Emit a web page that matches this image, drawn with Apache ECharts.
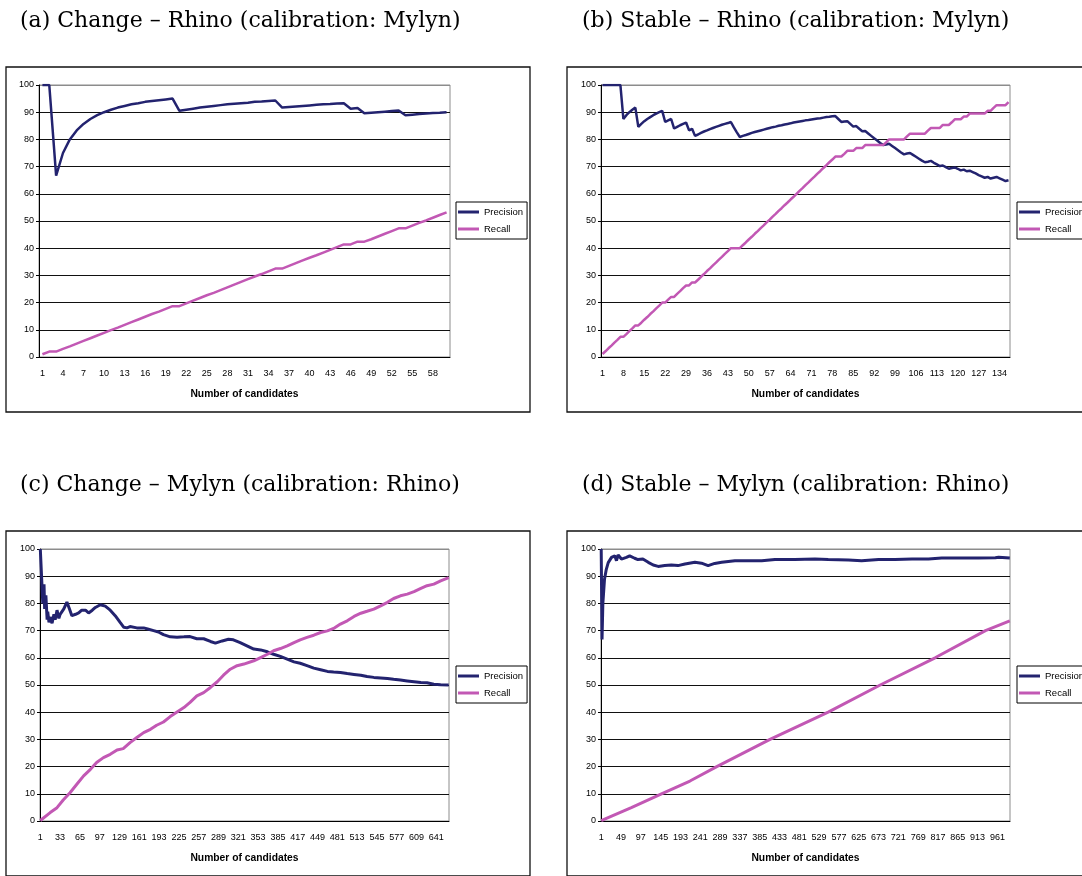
<!DOCTYPE html>
<html>
<head>
<meta charset="utf-8">
<script src="https://cdn.jsdelivr.net/npm/echarts@6/dist/echarts.min.js"></script>
<style>
  html, body { margin: 0; padding: 0; background: #fff; }
  #chart { width: 1082px; height: 876px; }
</style>
</head>
<body>
<div id="chart"></div>
<script>
// number of candidates on each x axis
var countA = 60, countB = 137, countC = 661, countD = 991;
// every n-th candidate gets a tick label
var labelStepA = 3, labelStepB = 7, labelStepC = 32, labelStepD = 48;

// (a) Change - Rhino, one value per candidate
var precisionA = [100,100,66.7,75,80,83.3,85.7,87.5,88.9,90,
  90.9,91.7,92.3,92.9,93.3,93.8,94.1,94.4,94.7,95,
  90.5,90.9,91.3,91.7,92,92.3,92.6,92.9,93.1,93.3,
  93.5,93.8,93.9,94.1,94.3,91.7,91.9,92.1,92.3,92.5,
  92.7,92.9,93,93.2,93.3,91.3,91.5,89.6,89.8,90,
  90.2,90.4,90.6,88.9,89.1,89.3,89.5,89.7,89.8,90];
var recallA = [1.0,2.0,2.0,3.0,3.9,4.9,5.9,6.9,7.9,8.9,
  9.9,10.8,11.8,12.8,13.8,14.8,15.8,16.7,17.7,18.7,
  18.7,19.7,20.7,21.7,22.7,23.6,24.6,25.6,26.6,27.6,
  28.6,29.6,30.5,31.5,32.5,32.5,33.5,34.5,35.5,36.5,
  37.4,38.4,39.4,40.4,41.4,41.4,42.4,42.4,43.3,44.3,
  45.3,46.3,47.3,47.3,48.3,49.3,50.2,51.2,52.2,53.2];

// (b) Stable - Rhino, one value per candidate
var precisionB = [100,100,100,100,100,100,100,87.5,88.9,90,
  90.9,91.7,84.6,85.7,86.7,87.5,88.2,88.9,89.5,90,
  90.5,86.4,87.0,87.5,84.0,84.6,85.2,85.7,86.2,83.3,
  83.9,81.3,81.8,82.4,82.9,83.3,83.8,84.2,84.6,85,
  85.4,85.7,86.0,86.4,84.4,82.6,80.9,81.3,81.6,82,
  82.4,82.7,83.0,83.3,83.6,83.9,84.2,84.5,84.7,85,
  85.2,85.5,85.7,85.9,86.2,86.4,86.6,86.8,87.0,87.1,
  87.3,87.5,87.7,87.8,88,88.2,88.3,88.5,88.6,87.5,
  86.4,86.6,86.7,85.7,84.7,84.9,83.9,83.0,83.1,82.2,
  81.3,80.4,79.6,78.7,77.9,78.1,78.4,77.6,76.8,76,
  75.2,74.5,74.8,75,74.3,73.6,72.9,72.2,71.6,71.8,
  72.1,71.4,70.8,70.2,70.4,69.8,69.2,69.5,69.7,69.2,
  68.6,68.9,68.3,68.5,68,67.5,66.9,66.4,65.9,66.2,
  65.6,65.9,66.2,65.7,65.2,64.7,65.0];
var recallB = [1.1,2.1,3.2,4.2,5.3,6.3,7.4,7.4,8.4,9.5,
  10.5,11.6,11.6,12.6,13.7,14.7,15.8,16.8,17.9,18.9,
  20.0,20.0,21.1,22.1,22.1,23.2,24.2,25.3,26.3,26.3,
  27.4,27.4,28.4,29.5,30.5,31.6,32.6,33.7,34.7,35.8,
  36.8,37.9,38.9,40.0,40.0,40.0,40.0,41.1,42.1,43.2,
  44.2,45.3,46.3,47.4,48.4,49.5,50.5,51.6,52.6,53.7,
  54.7,55.8,56.8,57.9,58.9,60.0,61.1,62.1,63.2,64.2,
  65.3,66.3,67.4,68.4,69.5,70.5,71.6,72.6,73.7,73.7,
  73.7,74.7,75.8,75.8,75.8,76.8,76.8,76.8,77.9,77.9,
  77.9,77.9,77.9,77.9,77.9,78.9,80.0,80.0,80.0,80.0,
  80.0,80.0,81.1,82.1,82.1,82.1,82.1,82.1,82.1,83.2,
  84.2,84.2,84.2,84.2,85.3,85.3,85.3,86.3,87.4,87.4,
  87.4,88.4,88.4,89.5,89.5,89.5,89.5,89.5,89.5,90.5,
  90.5,91.6,92.6,92.6,92.6,92.6,93.7];

// (c) Change - Mylyn, [candidate, value]
var precisionC = [[1,100],[3,100],[4,100],[5,80],[7,87],[8,78],[10,83],[12,74],[13,77],
  [15,73],[17,75],[20,72.7],[23,76],[25,74],[28,77.5],[31,74.5],[33,76],[36,76.5],
  [39,78],[41,79],[44,80.5],[48,78],[52,75.5],[55,75],[58,76],[63,76.5],[68,77.5],
  [74,77.5],[79,76.5],[85,77.5],[90,78.5],[98,79.5],[106,79],[114,77.5],[122,75.5],
  [130,73],[136,71.2],[141,71],[146,71.5],[157,71],[168,71],[176,70.5],[184,70],
  [192,69.5],[200,68.5],[211,67.7],[222,67.6],[233,67.7],[243,67.8],[254,67],[265,67],
  [276,66],[284,65.4],[295,66.2],[305,66.8],[313,66.6],[324,65.6],[335,64.4],[346,63.2],
  [357,62.9],[368,62.2],[378,61.3],[389,60.5],[400,59.5],[411,58.5],[421,58.0],
  [432,57.1],[443,56.2],[454,55.6],[465,55.0],[475,54.8],[486,54.6],[497,54.2],
  [508,53.9],[519,53.6],[529,53.1],[540,52.8],[551,52.6],[562,52.4],[572,52.1],
  [583,51.8],[594,51.5],[605,51.2],[616,50.9],[626,50.8],[637,50.3],[648,50.1],[661,50.0]];
var recallC = [[1,0.2],[17,3.1],[28,4.9],[38,7.7],[49,10.4],[60,13.5],[71,16.6],[82,19.0],
  [92,21.5],[103,23.3],[114,24.5],[125,26.1],[135,26.6],[146,28.8],[157,30.7],[168,32.5],
  [179,33.7],[189,35.2],[200,36.4],[211,38.4],[222,40.1],[233,41.7],[243,43.6],[254,46.0],
  [265,47.2],[276,49.1],[287,51.2],[297,53.6],[308,55.8],[319,57.1],[330,57.7],[346,58.9],
  [357,60.1],[368,61.3],[378,62.6],[389,63.4],[400,64.4],[411,65.6],[421,66.6],[432,67.5],
  [443,68.3],[454,69.3],[465,69.9],[475,70.8],[486,72.4],[497,73.6],[508,75.2],[519,76.4],
  [529,77.1],[540,77.9],[551,79.1],[562,80.4],[572,81.8],[583,82.8],[594,83.4],[605,84.3],
  [616,85.5],[626,86.5],[637,87.1],[648,88.3],[661,89.5]];

// (d) Stable - Mylyn, [candidate, value]
var precisionD = [[1,100],[3,66.7],[5,80],[9,88.9],[13,92.3],[18,95],[26,96.9],[34,97.5],
  [38,95.7],[42,97.8],[50,96.3],[62,96.9],[70,97.5],[74,97.8],[82,96.6],[90,96.1],
  [102,96.3],[115,95.1],[127,94.1],[139,93.6],[155,93.9],[171,94.1],[187,93.9],[204,94.5],
  [228,95.1],[244,94.8],[260,93.9],[276,94.7],[293,95.1],[325,95.7],[357,95.7],[390,95.7],
  [422,96.1],[470,96.1],[519,96.3],[551,96.1],[600,96.0],[632,95.7],[673,96.1],[713,96.1],
  [754,96.3],[794,96.3],[826,96.7],[875,96.7],[915,96.7],[956,96.8],[964,97.0],[991,96.7]];
var recallD = [[1,0.1],[74,4.9],[147,10],[216,14.7],[281,20],[410,30],[551,40],[677,50],
  [810,60],[932,70],[991,73.6]];

var precisionColor = '#23236f';
var recallColor = '#c258b4';

function numberLabels(n) {
  var out = [];
  for (var i = 1; i <= n; i++) out.push(String(i));
  return out;
}

function pairs(list) {
  return list.map(function (p) { return [String(p[0]), p[1]]; });
}

var panels = [
  { left: 39, top: 85, width: 411, count: countA, step: labelStepA, prec: precisionA, rec: recallA, lw: 2.5 },
  { left: 601, top: 85, width: 409, count: countB, step: labelStepB, prec: precisionB, rec: recallB, lw: 2.5 },
  { left: 40, top: 549, width: 409, count: countC, step: labelStepC, prec: pairs(precisionC), rec: pairs(recallC), lw: 3 },
  { left: 601, top: 549, width: 409, count: countD, step: labelStepD, prec: pairs(precisionD), rec: pairs(recallD), lw: 3 }
];

var titles = [
  { text: '(a) Change \u2013 Rhino (calibration: Mylyn)', left: 20, top: 10 },
  { text: '(b) Stable \u2013 Rhino (calibration: Mylyn)', left: 582, top: 10 },
  { text: '(c) Change \u2013 Mylyn (calibration: Rhino)', left: 20, top: 474 },
  { text: '(d) Stable \u2013 Mylyn (calibration: Rhino)', left: 582, top: 474 }
];

var boxes = [[6, 67], [567, 67], [6, 531], [567, 531]];

// top gridline (100) is the grey plot-area border, the others are black
var gridColors = ['#111','#111','#111','#111','#111','#111','#111','#111','#111','#111','#8c8c8c'];

var font = 'Liberation Sans';
var grid = [], xAxis = [], yAxis = [], series = [], legend = [];

panels.forEach(function (p, k) {
  grid.push({
    left: p.left, top: p.top, width: p.width, height: 272,
    show: true, borderColor: '#8c8c8c', borderWidth: 1, backgroundColor: '#fff'
  });
  xAxis.push({
    gridIndex: k,
    type: 'category',
    data: numberLabels(p.count),
    boundaryGap: true,
    axisLine: { lineStyle: { color: '#000', width: 1 } },
    axisTick: { interval: 0, length: 4, lineStyle: { color: '#000', width: 1 } },
    axisLabel: { interval: p.step - 1, fontSize: 9, color: '#000', fontFamily: font, margin: 12 },
    splitLine: { show: false },
    name: 'Number of candidates',
    nameLocation: 'middle',
    nameGap: 32,
    nameTextStyle: { fontSize: 10.3, fontWeight: 'bold', color: '#000', fontFamily: font }
  });
  yAxis.push({
    gridIndex: k,
    type: 'value',
    min: 0, max: 100, interval: 10,
    axisLine: { show: true, lineStyle: { color: '#000', width: 1 } },
    axisTick: { show: true, length: 3, lineStyle: { color: '#000' } },
    axisLabel: { fontSize: 9, color: '#000', fontFamily: font, margin: 5 },
    splitLine: { show: true, lineStyle: { color: gridColors, width: 1 } }
  });
  series.push({
    name: 'Precision', type: 'line', xAxisIndex: k, yAxisIndex: k,
    data: p.prec, showSymbol: false, symbol: 'none',
    itemStyle: { color: precisionColor },
    lineStyle: { color: precisionColor, width: p.lw }
  });
  series.push({
    name: 'Recall', type: 'line', xAxisIndex: k, yAxisIndex: k,
    data: p.rec, showSymbol: false, symbol: 'none',
    itemStyle: { color: recallColor },
    lineStyle: { color: recallColor, width: p.lw }
  });
  legend.push({
    data: ['Precision', 'Recall'],
    orient: 'vertical',
    left: boxes[k][0] + 450,
    top: boxes[k][1] + 135,
    icon: 'rect',
    itemWidth: 21,
    itemHeight: 3,
    itemGap: 7,
    itemTextGap: 1,
    padding: [5, 4, 5, 2],
    borderColor: '#000',
    borderWidth: 1,
    backgroundColor: '#fff',
    textStyle: { fontSize: 9.5, color: '#000', fontFamily: font }
  });
});

var chart = echarts.init(document.getElementById('chart'));
chart.setOption({
  backgroundColor: '#fff',
  animation: false,
  title: titles.map(function (t) {
    return {
      text: t.text, left: t.left, top: t.top, padding: 0,
      textStyle: { fontFamily: 'DejaVu Serif', fontSize: 22, fontWeight: 'normal', color: '#000' }
    };
  }),
  graphic: boxes.map(function (b) {
    return {
      type: 'rect', silent: true, z: -1,
      shape: { x: b[0], y: b[1], width: 524, height: 345 },
      style: { fill: 'none', stroke: '#111', lineWidth: 1.3 }
    };
  }),
  grid: grid,
  xAxis: xAxis,
  yAxis: yAxis,
  legend: legend,
  series: series
});
</script>
</body>
</html>
